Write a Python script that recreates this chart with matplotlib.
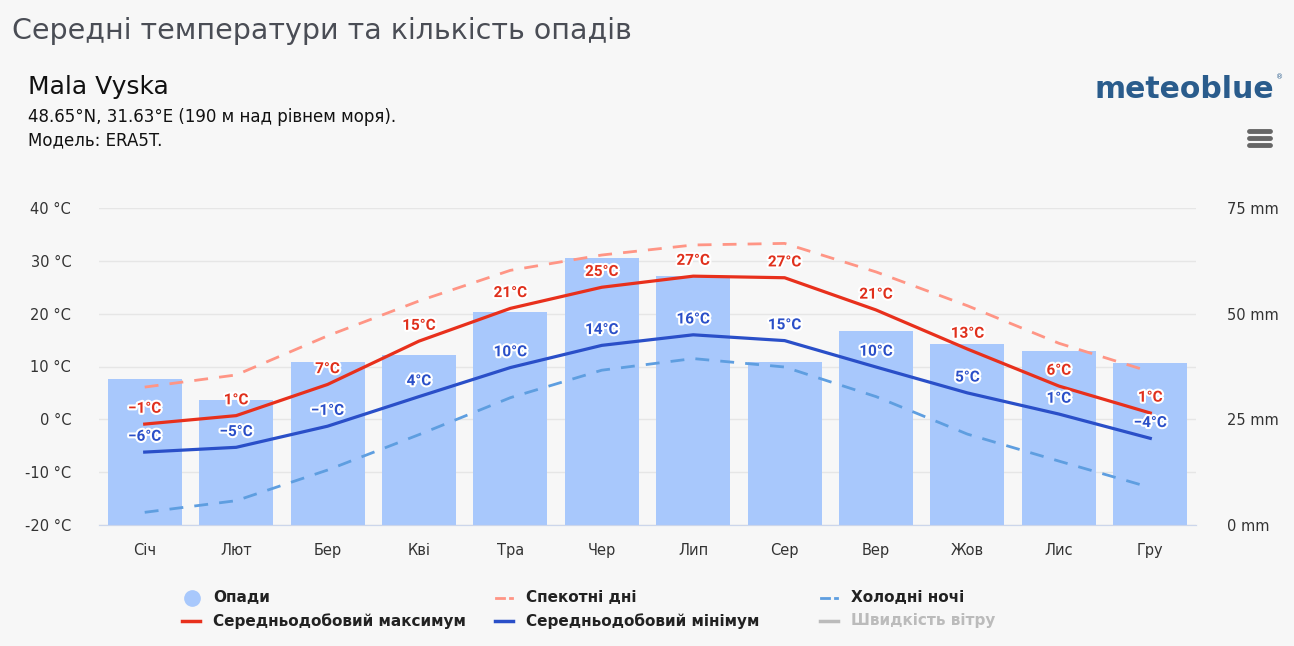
import matplotlib
matplotlib.use("Agg")
import matplotlib.pyplot as plt
import matplotlib.patheffects as pe
from matplotlib.lines import Line2D
import numpy as np

months = ["Січ", "Лют", "Бер", "Кві", "Тра", "Чер", "Лип", "Сер", "Вер", "Жов", "Лис", "Гру"]
precip_mm = [34.5, 29.6, 38.6, 40.2, 50.3, 63.2, 58.9, 38.6, 45.8, 42.9, 41.2, 38.3]
tmax = [-0.9, 0.7, 6.6, 14.8, 21.0, 25.0, 27.1, 26.8, 20.7, 13.3, 6.3, 1.2]
tmin = [-6.2, -5.3, -1.3, 4.3, 9.8, 14.0, 16.0, 14.9, 9.9, 5.0, 1.0, -3.6]
hot_days = [6.1, 8.4, 15.8, 22.4, 28.2, 31.1, 33.0, 33.3, 27.9, 21.5, 14.4, 9.0]
cold_nights = [-17.6, -15.4, -9.6, -2.9, 4.1, 9.3, 11.5, 9.9, 4.3, -2.8, -7.9, -12.9]
tmax_labels = [-1, 1, 7, 15, 21, 25, 27, 27, 21, 13, 6, 1]
tmin_labels = [-6, -5, -1, 4, 10, 14, 16, 15, 10, 5, 1, -4]
temp_ticks = [-20, -10, 0, 10, 20, 30, 40]
mm_ticks = [0, 25, 50, 75]

BG = "#f7f7f7"
plt.rcParams['font.family'] = ['DejaVu Sans']
LABEL_FONT = ['Roboto', 'DejaVu Sans']

fig = plt.figure(figsize=(12.94, 6.46), dpi=100, facecolor=BG)
W, H = 1294, 646
L, R, T, B = 99, 1196, 208, 525
ax2 = fig.add_axes([L / W, 1 - B / H, (R - L) / W, (B - T) / H])
ax = ax2.twinx()
ax.yaxis.tick_left()
ax.yaxis.set_label_position("left")
ax2.yaxis.tick_right()
ax2.set_zorder(1)
ax.set_zorder(2)
ax.patch.set_visible(False)
ax2.set_facecolor(BG)

x = np.arange(len(months))
ax2.bar(x, precip_mm, width=0.81, color="#a8c8fc", zorder=2)
ax2.set_ylim(0, 75)
ax2.set_yticks(mm_ticks)
ax2.set_yticklabels([f"{v} mm" for v in mm_ticks])
ax2.set_yticks([12.5, 37.5, 62.5], minor=True)
ax2.grid(True, which="both", axis="y", color="#e6e6e6", lw=1, zorder=0)
ax2.set_axisbelow(True)
ax2.set_xlim(-0.5, 11.5)
ax2.set_xticks(x)
ax2.set_xticklabels(months)

ax.set_ylim(-20, 40)
ax.set_yticks(temp_ticks)
ax.set_yticklabels([f"{v} °C" for v in temp_ticks])
ax.set_xlim(-0.5, 11.5)

for a in (ax, ax2):
    for s in ("top", "left", "right"):
        a.spines[s].set_visible(False)
    a.spines["bottom"].set_color("#ccd6eb")
    a.tick_params(length=0, which="both", labelsize=10.5, labelcolor="#333333")
ax2.tick_params(axis="y", pad=22)
ax.tick_params(axis="y", pad=20)
ax2.tick_params(axis="x", pad=13)

ax.plot(x, hot_days, color="#ff9585", lw=2, dashes=(5, 4), zorder=3)
ax.plot(x, cold_nights, color="#5e9ee0", lw=2, dashes=(5, 4), zorder=3)
ax.plot(x, tmax, color="#e8301c", lw=2.3, zorder=4)
ax.plot(x, tmin, color="#2a4fc8", lw=2.3, zorder=4)

stroke = [pe.withStroke(linewidth=3, foreground="white")]
for i in range(len(months)):
    ax.annotate(f"{tmax_labels[i]}°C".replace("-", "−"), (x[i], tmax[i]), xytext=(0, 6),
                textcoords="offset points", ha="center", va="bottom", fontsize=11,
                family=LABEL_FONT, fontweight="bold", color="#e0301c",
                path_effects=stroke, zorder=6)
    ax.annotate(f"{tmin_labels[i]}°C".replace("-", "−"), (x[i], tmin[i]), xytext=(0, 6),
                textcoords="offset points", ha="center", va="bottom", fontsize=11,
                family=LABEL_FONT, fontweight="bold", color="#2a4fc8",
                path_effects=stroke, zorder=6)

# Header texts
fig.text(12 / W, 1 - 31 / H, "Середні температури та кількість опадів", fontsize=20.5,
         color="#4a4d55", va="center", ha="left")
fig.text(28 / W, 1 - 87 / H, "Mala Vyska", fontsize=18, color="#111111", va="center")
fig.text(28 / W, 1 - 117 / H, "48.65°N, 31.63°E (190 м над рівнем моря).", fontsize=12,
         color="#111111", va="center")
fig.text(28 / W, 1 - 140 / H, "Модель: ERA5T.", fontsize=12, color="#111111", va="center")
fig.text(1274 / W, 1 - 90 / H, "meteoblue", fontsize=21.5, fontweight="bold", color="#2a5c8c",
         ha="right", va="center")
fig.text(1276 / W, 1 - 77 / H, "®", fontsize=5, color="#2a5c8c", ha="left", va="center")
for yy in (131, 138, 145):
    fig.add_artist(Line2D([1249 / W, 1270 / W], [1 - yy / H, 1 - yy / H], color="#666666",
                          lw=3.5, solid_capstyle="round"))

# Legend
legend_items = [
    (192, 598, "circle", "#a8c8fc", "Опади", "#222222"),
    (505, 598, "dash", "#ff9585", "Спекотні дні", "#222222"),
    (830, 598, "dash", "#5e9ee0", "Холодні ночі", "#222222"),
    (192, 621, "line", "#e8301c", "Середньодобовий максимум", "#222222"),
    (505, 621, "line", "#2a4fc8", "Середньодобовий мінімум", "#222222"),
    (830, 621, "line", "#bbbbbb", "Швидкість вітру", "#bbbbbb"),
]
for lx, ly, kind, col, label, tcol in legend_items:
    yy = 1 - ly / H
    if kind == "circle":
        fig.add_artist(Line2D([lx / W], [yy], marker="o", markersize=11, color=col, lw=0))
    elif kind == "dash":
        fig.add_artist(Line2D([(lx - 9) / W, (lx - 1) / W], [yy, yy], color=col, lw=2))
        fig.add_artist(Line2D([(lx + 5) / W, (lx + 7) / W], [yy, yy], color=col, lw=2))
    else:
        fig.add_artist(Line2D([(lx - 10) / W, (lx + 8) / W], [yy, yy], color=col, lw=2.5))
    fig.text((lx + 21) / W, yy, label, fontsize=11, fontweight="bold", color=tcol,
             va="center", ha="left")

fig.savefig("out.png", dpi=100, facecolor=BG)
